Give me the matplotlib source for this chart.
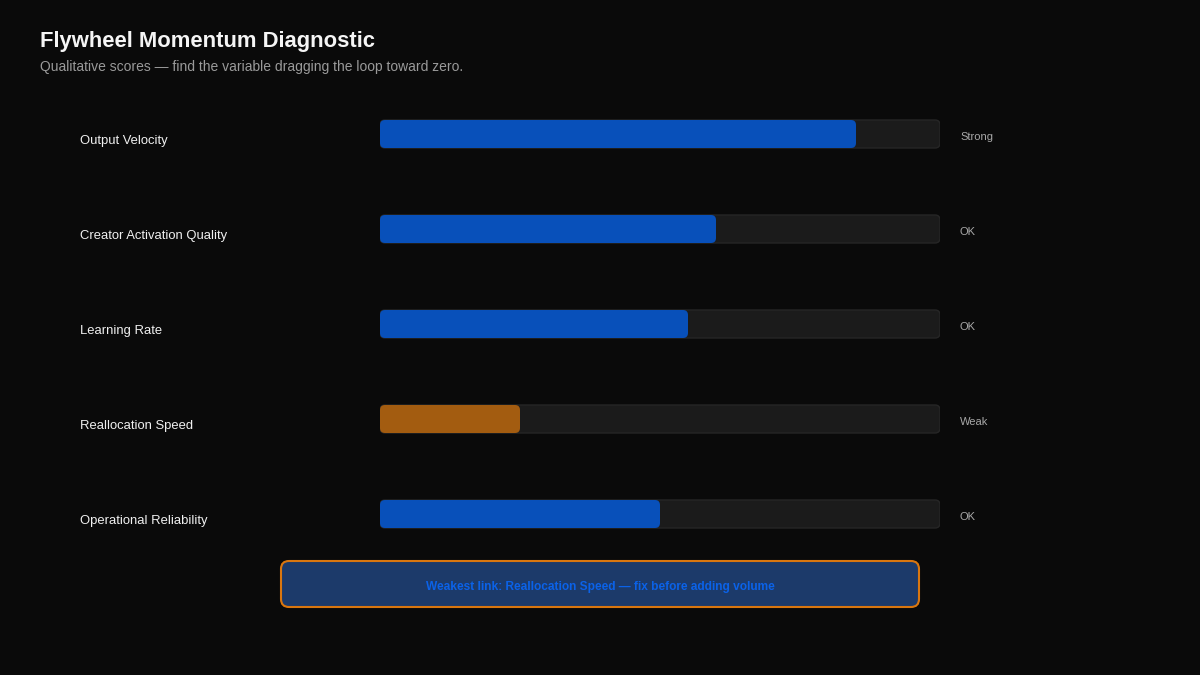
import matplotlib
matplotlib.use("Agg")
import matplotlib.pyplot as plt
from matplotlib.patches import FancyBboxPatch

categories = ["Output Velocity", "Creator Activation Quality", "Learning Rate",
              "Reallocation Speed", "Operational Reliability"]
scores = [0.85, 0.60, 0.55, 0.25, 0.50]
status = ["Strong", "OK", "OK", "Weak", "OK"]
weakest = "Reallocation Speed"

BG = "#0a0a0a"
TRACK = "#1b1b1b"
BLUE = "#0850ba"
ORANGE = "#a35c10"

plt.rcParams['font.family'] = ['Liberation Sans', 'DejaVu Sans']

W, H = 1200, 675
fig = plt.figure(figsize=(12, 6.75), dpi=100, facecolor=BG)

fig.text(40 / W, 1 - 41 / H, "Flywheel Momentum Diagnostic", color="#f5f5f5",
         fontsize=15.8, fontweight="bold", va="center", ha="left")
fig.text(40 / W, 1 - 67 / H,
         "Qualitative scores \u2014 find the variable dragging the loop toward zero.",
         color="#9a9a9a", fontsize=10, va="center", ha="left")

# bar area: x 380..940 px, rows every 95 px starting at 134
n = len(categories)
ax = fig.add_axes([380 / W, 1 - (86.5 + 95 * n) / H, 560 / W, 95 * n / H])
ax.set_xlim(0, 1)
ax.set_ylim(n - 0.5, -0.5)
ax.axis("off")

bh = 28 / 95
asp = 560 / 95
r = 5 / 560
for i, (cat, v, st) in enumerate(zip(categories, scores, status)):
    track = FancyBboxPatch((0, i - bh / 2), 1, bh,
                           boxstyle=f"round,pad=0,rounding_size={r}",
                           mutation_aspect=asp, facecolor=TRACK,
                           edgecolor="#262626", linewidth=1)
    ax.add_patch(track)
    col = ORANGE if st == "Weak" else BLUE
    bar = FancyBboxPatch((0, i - bh / 2), v, bh,
                         boxstyle=f"round,pad=0,rounding_size={r}",
                         mutation_aspect=asp, facecolor=col, edgecolor="none")
    ax.add_patch(bar)
    ax.text((80 - 380) / 560, i + 0.075, cat, transform=ax.get_yaxis_transform(),
            color="#f0f0f0", fontsize=9.35, va="center", ha="left")
    ax.text((960 - 380) / 560, i + 0.03, st, transform=ax.get_yaxis_transform(),
            color="#a8a8a8", fontsize=8, va="center", ha="left")

# callout box
cx = fig.add_axes([278 / W, 1 - 610 / H, 644 / W, 52 / H])
cx.set_xlim(0, 644)
cx.set_ylim(0, 52)
cx.axis("off")
cx.add_patch(FancyBboxPatch((3, 3), 638, 46,
                            boxstyle="round,pad=0,rounding_size=8",
                            facecolor="#1c3a6a", edgecolor="#d9760f", linewidth=1.5))
cx.text(322, 23, f"Weakest link: {weakest} \u2014 fix before adding volume",
        color="#0b62e8", fontsize=8.6, fontweight="bold", ha="center", va="center")

fig.savefig("out.png", dpi=100, facecolor=BG)
